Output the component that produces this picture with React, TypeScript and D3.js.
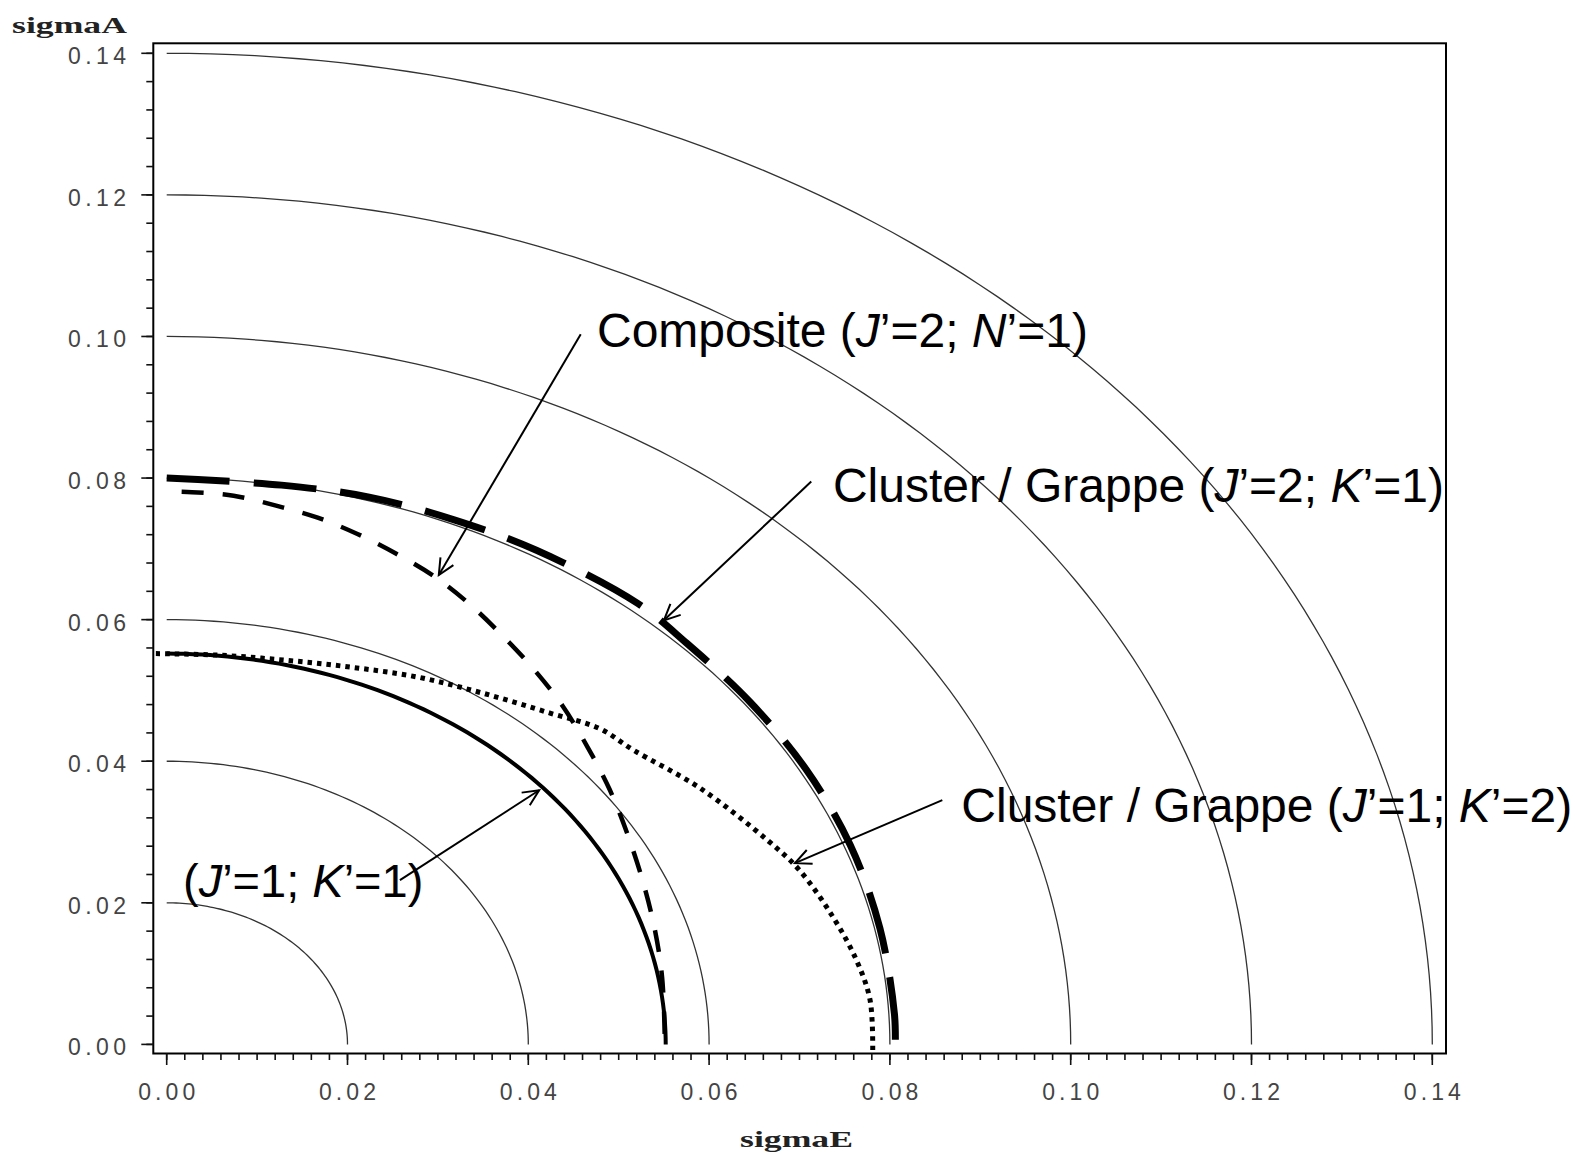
import React from "react";
import * as d3 from "d3";

// ---------- data ----------
const xMajorTicks = [0, 0.02, 0.04, 0.06, 0.08, 0.1, 0.12, 0.14];
const xTickLabels = ["0.00", "0.02", "0.04", "0.06", "0.08", "0.10", "0.12", "0.14"];
const yMajorTicks = [0, 0.02, 0.04, 0.06, 0.08, 0.1, 0.12, 0.14];
const yTickLabels = ["0.00", "0.02", "0.04", "0.06", "0.08", "0.10", "0.12", "0.14"];
const xMinorTicks = d3.range(0, 0.14001, 0.002);
const yMinorTicks = d3.range(0, 0.14001, 0.004);

// reference iso-circles sqrt(sigmaE^2 + sigmaA^2) = r
const referenceRadii = [0.02, 0.04, 0.06, 0.08, 0.1, 0.12, 0.14];
// (J'=1; K'=1) : circle
const clusterJ1K1Radius = 0.0552;

// Cluster / Grappe (J'=2; K'=1) : heavy long dash
const clusterJ2K1: [number, number][] = [
  [0, 0.08], [0.0127, 0.079], [0.0224, 0.0773], [0.0318, 0.0741], [0.0409, 0.0698],
  [0.0521, 0.0623], [0.0575, 0.0567], [0.0645, 0.0484], [0.0707, 0.0389],
  [0.0756, 0.0282], [0.0789, 0.0164], [0.0805, 0.0043], [0.0806, 0],
];
// Composite (J'=2; N'=1) : medium dash
const compositeJ2N1: [number, number][] = [
  [0, 0.0781], [0.0028, 0.078], [0.0074, 0.0775], [0.0121, 0.0761], [0.0167, 0.0744],
  [0.0211, 0.0721], [0.0254, 0.0693], [0.0296, 0.0661], [0.0335, 0.0622],
  [0.0371, 0.0578], [0.0406, 0.053], [0.0438, 0.0478], [0.0466, 0.0419],
  [0.049, 0.036], [0.051, 0.0296], [0.0527, 0.0229], [0.054, 0.0162],
  [0.0548, 0.0095], [0.0551, 0.0006], [0.0551, 0],
];
// Cluster / Grappe (J'=1; K'=2) : dotted
const clusterJ1K2: [number, number][] = [
  [-0.0012, 0.0552], [0.0055, 0.055], [0.0129, 0.0543], [0.0203, 0.0533], [0.0277, 0.0519],
  [0.035, 0.0496], [0.0424, 0.0468], [0.0479, 0.0446], [0.0516, 0.0416],
  [0.059, 0.0362], [0.0664, 0.0289], [0.07, 0.0246], [0.0737, 0.018],
  [0.0763, 0.0119], [0.0778, 0.0063], [0.0781, -0.0008],
];

// annotations (data coordinates)
const annotationTexts = [
  { parts: ["Composite (", "J", "’=2; ", "N", "’=1)"] },
  { parts: ["Cluster / Grappe (", "J", "’=2; ", "K", "’=1)"] },
  { parts: ["Cluster / Grappe (", "J", "’=1; ", "K", "’=2)"] },
  { parts: ["(", "J", "’=1; ", "K", "’=1)"] },
];
const annotationAnchors: [number, number][] = [
  [0.0476, 0.0985],
  [0.0737, 0.0766],
  [0.0879, 0.0314],
  [0.0018, 0.0208],
];
const arrowFrom: [number, number][] = [
  [0.0458, 0.1003],
  [0.0713, 0.0795],
  [0.0858, 0.0345],
  [0.0258, 0.0232],
];
const arrowTo: [number, number][] = [
  [0.0301, 0.0663],
  [0.0550, 0.0599],
  [0.0695, 0.0256],
  [0.0412, 0.0359],
];

const W = 1575;
const H = 1164;

export default function App() {
  const x = d3.scaleLinear().domain([0, 0.14]).range([166.7, 1432.3]);
  const y = d3.scaleLinear().domain([0, 0.14]).range([1044.4, 53.3]);

  const frame = { left: 153.3, right: 1446, top: 43.3, bottom: 1053.5 };

  const lineGen = d3
    .line<[number, number]>()
    .x((d) => x(d[0]))
    .y((d) => y(d[1]));
  const smoothGen = d3
    .line<[number, number]>()
    .x((d) => x(d[0]))
    .y((d) => y(d[1]))
    .curve(d3.curveCatmullRom.alpha(0.5));

  const circlePts = (r: number): [number, number][] =>
    d3.range(0, 90.001, 1).map((deg) => {
      const t = (deg * Math.PI) / 180;
      return [r * Math.sin(t), r * Math.cos(t)] as [number, number];
    });

  const tickFont = "'Liberation Sans', Arial, sans-serif";
  const annFont = "'Liberation Sans', Arial, sans-serif";
  const annSizes = [48, 48, 48, 47];

  return (
    <svg
      width={W}
      height={H}
      style={{ position: "absolute", left: 0, top: 0, background: "#fff" }}
    >
      <defs>
        <marker
          id="arr"
          viewBox="-18 -9 20 18"
          refX={0}
          refY={0}
          markerWidth={20}
          markerHeight={18}
          markerUnits="userSpaceOnUse"
          orient="auto"
        >
          <path d="M -16 -7.5 L 0 0 L -16 7.5" fill="none" stroke="#000" strokeWidth={2} />
        </marker>
      </defs>
      <rect x={0} y={0} width={W} height={H} fill="#fff" />

      {/* frame */}
      <rect
        x={frame.left}
        y={frame.top}
        width={frame.right - frame.left}
        height={frame.bottom - frame.top}
        fill="none"
        stroke="#000"
        strokeWidth={2}
      />

      {/* x ticks */}
      {xMinorTicks.map((v, i) => (
        <line key={"xm" + i} x1={x(v)} x2={x(v)} y1={frame.bottom} y2={frame.bottom + 6.5} stroke="#111" strokeWidth={1.6} />
      ))}
      {xMajorTicks.map((v, i) => (
        <line key={"xM" + i} x1={x(v)} x2={x(v)} y1={frame.bottom} y2={frame.bottom + 11.5} stroke="#111" strokeWidth={1.6} />
      ))}
      {xMajorTicks.map((v, i) => (
        <text key={"xl" + i} x={x(v)} y={1100} textAnchor="middle" fontFamily={tickFont} fontSize={23} fill="#444" textLength={57} lengthAdjust="spacing">
          {xTickLabels[i]}
        </text>
      ))}

      {/* y ticks */}
      {yMinorTicks.map((v, i) => (
        <line key={"ym" + i} x1={frame.left - 7} x2={frame.left} y1={y(v)} y2={y(v)} stroke="#111" strokeWidth={1.6} />
      ))}
      {yMajorTicks.map((v, i) => (
        <line key={"yM" + i} x1={frame.left - 12} x2={frame.left} y1={y(v)} y2={y(v)} stroke="#111" strokeWidth={1.6} />
      ))}
      {yMajorTicks.map((v, i) => (
        <text key={"yl" + i} x={126} y={y(v) + 11} textAnchor="end" fontFamily={tickFont} fontSize={23} fill="#444" textLength={58} lengthAdjust="spacing">
          {yTickLabels[i]}
        </text>
      ))}

      {/* axis titles */}
      <text x={12} y={33} fontFamily="'Liberation Serif', 'Times New Roman', serif" fontWeight="bold" fontSize={23} fill="#222" textLength={115} lengthAdjust="spacingAndGlyphs">
        sigmaA
      </text>
      <text x={740} y={1147} fontFamily="'Liberation Serif', 'Times New Roman', serif" fontWeight="bold" fontSize={24} fill="#222" textLength={113} lengthAdjust="spacingAndGlyphs">
        sigmaE
      </text>

      {/* reference circles */}
      {referenceRadii.map((r, i) => (
        <path key={"rc" + i} d={lineGen(circlePts(r)) || ""} fill="none" stroke="#333" strokeWidth={1.3} />
      ))}

      {/* J'=1; K'=1 solid thick */}
      <path d={lineGen(circlePts(clusterJ1K1Radius)) || ""} fill="none" stroke="#000" strokeWidth={4} />

      {/* J'=2; K'=1 heavy long dash */}
      <path d={smoothGen(clusterJ2K1) || ""} fill="none" stroke="#000" strokeWidth={7} strokeDasharray="63 24" />

      {/* Composite medium dash */}
      <path d={smoothGen(compositeJ2N1) || ""} fill="none" stroke="#000" strokeWidth={4.5} strokeDasharray="22 19" strokeDashoffset={26} />

      {/* J'=1; K'=2 dotted */}
      <path d={smoothGen(clusterJ1K2) || ""} fill="none" stroke="#000" strokeWidth={5} strokeDasharray="4.5 5" />

      {/* annotations */}
      {annotationTexts.map((a, i) => (
        <text key={"at" + i} x={x(annotationAnchors[i][0])} y={y(annotationAnchors[i][1])} fontFamily={annFont} fontSize={annSizes[i]} fill="#000">
          {a.parts.map((p, j) => (
            <tspan key={j} fontStyle={j === 1 || j === 3 ? "italic" : "normal"}>
              {p}
            </tspan>
          ))}
        </text>
      ))}
      {arrowFrom.map((f, i) => (
        <line
          key={"ar" + i}
          x1={x(f[0])}
          y1={y(f[1])}
          x2={x(arrowTo[i][0])}
          y2={y(arrowTo[i][1])}
          stroke="#000"
          strokeWidth={2}
          markerEnd="url(#arr)"
        />
      ))}
    </svg>
  );
}
